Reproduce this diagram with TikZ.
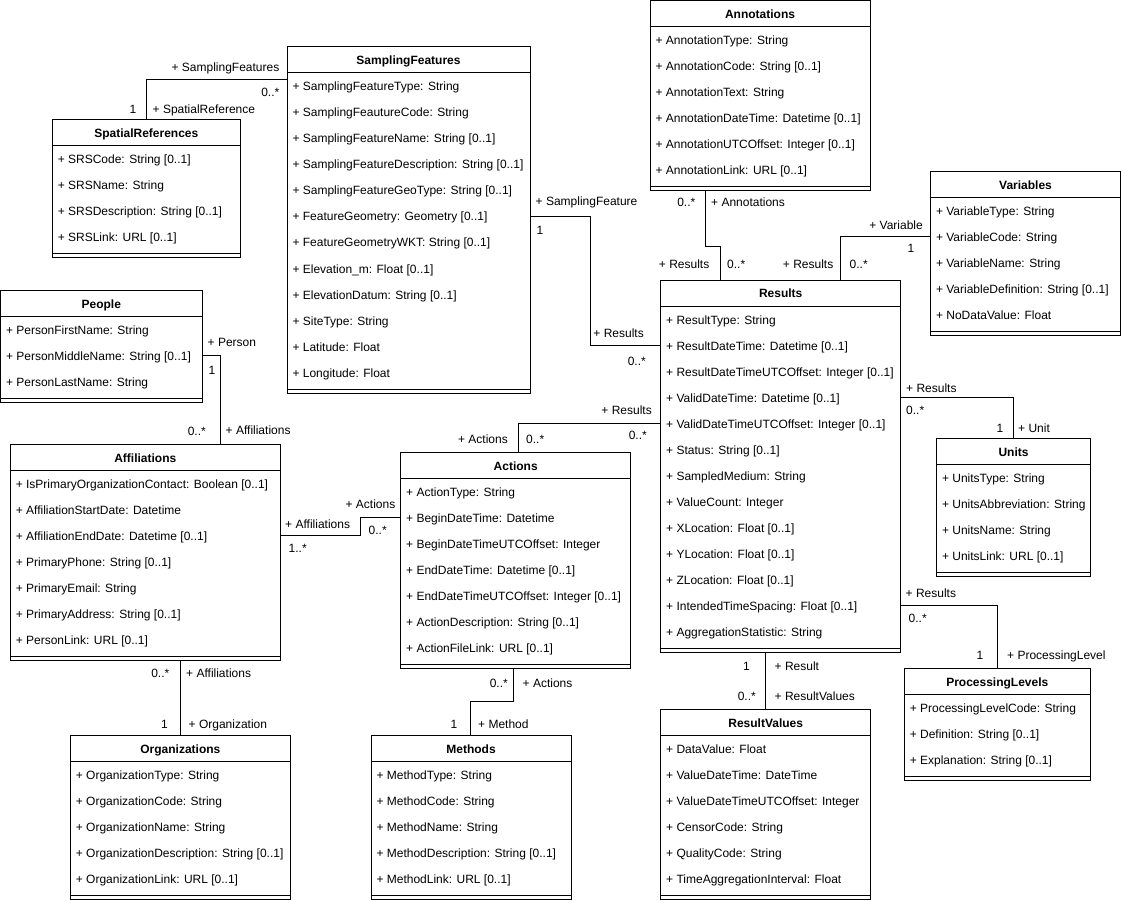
\documentclass[tikz,border=0pt]{standalone}
\usepackage{fontspec}
\setmainfont{Liberation Sans}
\usetikzlibrary{calc}
\tikzset{
  clsbox/.style={draw=black, line width=1pt, fill=white, inner sep=0pt, outer sep=0pt},
  clsline/.style={draw=black, line width=1pt},
  clstitle/.style={inner sep=0pt, font=\fontsize{12}{14}\selectfont\bfseries},
  clsattr/.style={inner sep=0pt, font=\fontsize{12}{14}\selectfont},
  conn/.style={draw=black, line width=1pt},
  lbl/.style={inner sep=0pt, font=\fontsize{12}{14}\selectfont, yshift=-0.8pt},
  lw/.style={lbl, anchor=base west},
  le/.style={lbl, anchor=base east}
}
\newcommand\umlclass[7]{%
  \pgfmathsetmacro\clsh{34+26*#5}%
  \node[clsbox, minimum width=#4pt, minimum height=\clsh pt, anchor=north west] (#1) at (#2,#3) {};
  \node[clstitle, anchor=base] (#1-t) at ($(#1.north west)+(#4/2,17.8)$) {#6};
  \draw[clsline] ($(#1.north west)+(0,26)$) -- ($(#1.north east)+(0,26)$);
  \draw[clsline] ($(#1.south west)+(0,-4)$) -- ($(#1.south east)+(0,-4)$);
  \foreach \t [count=\i] in {#7} {\node[clsattr, anchor=base west] (#1-\i) at ($(#1.north west)+(5.3,18+26*\i)$) {\t};}
}
\begin{document}
\begin{tikzpicture}[x=1pt,y=-1pt]
\useasboundingbox (0,0) rectangle (1121,901);

% classes
\umlclass{sr}{52.3}{120}{188}{4}{SpatialReferences}{{+ SRSCode: String [0..1]},{+ SRSName: String},{+ SRSDescription: String [0..1]},{+ SRSLink: URL [0..1]}}
\umlclass{sf}{287}{47}{243}{12}{SamplingFeatures}{{+ SamplingFeatureType: String},{+ SamplingFeautureCode: String},{+ SamplingFeatureName: String [0..1]},{+ SamplingFeatureDescription: String [0..1]},{+ SamplingFeatureGeoType: String [0..1]},{+ FeatureGeometry: Geometry [0..1]},{+ FeatureGeometryWKT: String [0..1]},{+ Elevation\_m: Float [0..1]},{+ ElevationDatum: String [0..1]},{+ SiteType: String},{+ Latitude: Float},{+ Longitude: Float}}
\umlclass{ann}{650}{0.5}{220}{6}{Annotations}{{+ AnnotationType: String},{+ AnnotationCode: String [0..1]},{+ AnnotationText: String},{+ AnnotationDateTime: Datetime [0..1]},{+ AnnotationUTCOffset: Integer [0..1]},{+ AnnotationLink: URL [0..1]}}
\umlclass{var}{930.5}{171.5}{190}{5}{Variables}{{+ VariableType: String},{+ VariableCode: String},{+ VariableName: String},{+ VariableDefinition: String [0..1]},{+ NoDataValue: Float}}
\umlclass{ppl}{0.5}{290.3}{201.5}{3}{People}{{+ PersonFirstName: String},{+ PersonMiddleName: String [0..1]},{+ PersonLastName: String}}
\umlclass{aff}{10.3}{444.3}{270}{7}{Affiliations}{{+ IsPrimaryOrganizationContact: Boolean [0..1]},{+ AffiliationStartDate: Datetime},{+ AffiliationEndDate: Datetime [0..1]},{+ PrimaryPhone: String [0..1]},{+ PrimaryEmail: String},{+ PrimaryAddress: String [0..1]},{+ PersonLink: URL [0..1]}}
\umlclass{act}{400.7}{452.3}{230}{7}{Actions}{{+ ActionType: String},{+ BeginDateTime: Datetime},{+ BeginDateTimeUTCOffset: Integer},{+ EndDateTime: Datetime [0..1]},{+ EndDateTimeUTCOffset: Integer [0..1]},{+ ActionDescription: String [0..1]},{+ ActionFileLink: URL [0..1]}}
\umlclass{res}{660.7}{280}{240}{13}{Results}{{+ ResultType: String},{+ ResultDateTime: Datetime [0..1]},{+ ResultDateTimeUTCOffset: Integer [0..1]},{+ ValidDateTime: Datetime [0..1]},{+ ValidDateTimeUTCOffset: Integer [0..1]},{+ Status: String [0..1]},{+ SampledMedium: String},{+ ValueCount: Integer},{+ XLocation: Float [0..1]},{+ YLocation: Float [0..1]},{+ ZLocation: Float [0..1]},{+ IntendedTimeSpacing: Float [0..1]},{+ AggregationStatistic: String}}
\umlclass{unit}{936.5}{438.3}{154}{4}{Units}{{+ UnitsType: String},{+ UnitsAbbreviation: String},{+ UnitsName: String},{+ UnitsLink: URL [0..1]}}
\umlclass{pl}{904.3}{668.3}{186}{3}{ProcessingLevels}{{+ ProcessingLevelCode: String},{+ Definition: String [0..1]},{+ Explanation: String [0..1]}}
\umlclass{rv}{660.7}{709.3}{210}{6}{ResultValues}{{+ DataValue: Float},{+ ValueDateTime: DateTime},{+ ValueDateTimeUTCOffset: Integer},{+ CensorCode: String},{+ QualityCode: String},{+ TimeAggregationInterval: Float}}
\umlclass{org}{70.4}{735.5}{220}{5}{Organizations}{{+ OrganizationType: String},{+ OrganizationCode: String},{+ OrganizationName: String},{+ OrganizationDescription: String [0..1]},{+ OrganizationLink: URL [0..1]}}
\umlclass{met}{371}{735.5}{200}{5}{Methods}{{+ MethodType: String},{+ MethodCode: String},{+ MethodName: String},{+ MethodDescription: String [0..1]},{+ MethodLink: URL [0..1]}}

% connectors
\draw[conn] ($(sr.north west)+(94.4,0)$) |- ($(sf.north west)+(0,32.3)$);
\draw[conn] ($(sf.north east)+(0,169.7)$) -- ++(60.7,0) |- ($(res.north west)+(0,65.3)$);
\draw[conn] ($(ann.south west)+(55,0)$) |- ($(res.north west)+(60,-33.3)$) -- ($(res.north west)+(60,0)$);
\draw[conn] ($(res.north west)+(179.6,0)$) |- ($(var.north west)+(0,65.2)$);
\draw[conn] ($(ppl.north east)+(0,65.4)$) -| ($(aff.north west)+(209.7,0)$);
\draw[conn] ($(aff.north east)+(0,90.7)$) -| ($(act.north west)+(-40,65)$) -- ($(act.north west)+(0,65)$);
\draw[conn] ($(act.north west)+(117.6,0)$) |- ($(res.north west)+(0,143.3)$);
\draw[conn] ($(act.south west)+(112.6,0)$) -- ++(0,32.7) -| ($(met.north west)+(99,0)$);
\coordinate (c-ao) at ($(aff.south west)+(169.7,0)$);
\draw[conn] (c-ao) -- (c-ao |- org.north);
\draw[conn] ($(res.north east)+(0,117.3)$) -| ($(unit.north west)+(76.8,0)$);
\draw[conn] ($(res.north east)+(0,325.3)$) -| ($(pl.north west)+(93,0)$);
\coordinate (c-rr) at ($(res.south west)+(105,0)$);
\draw[conn] (c-rr) -- (c-rr |- rv.north);

% labels
\node[le] (lb1) at (279.5,71) {+ SamplingFeatures};
\node[le] (lb2) at (279.5,96) {0..*};
\node[le] (lb3) at (136.5,112.5) {1};
\node[lw] (lb4) at (152.5,112.5) {+ SpatialReference};
\node[lw] (lb5) at (535.5,205) {+ SamplingFeature};
\node[lw] (lb6) at (536.5,233.5) {1};
\node[le] (lb7) at (644,337) {+ Results};
\node[le] (lb8) at (646,365) {0..*};
\node[le] (lb9) at (695.5,206) {0..*};
\node[lw] (lb10) at (711,206) {+ Annotations};
\node[le] (lb11) at (709.5,268) {+ Results};
\node[lw] (lb12) at (727,268) {0..*};
\node[le] (lb13) at (833.5,268) {+ Results};
\node[lw] (lb14) at (849.5,268) {0..*};
\node[le] (lb15) at (923,229) {+ Variable};
\node[le] (lb16) at (914.5,252) {1};
\node[lw] (lb17) at (207.5,346) {+ Person};
\node[lw] (lb18) at (208.5,373.5) {1};
\node[le] (lb19) at (206,435) {0..*};
\node[lw] (lb20) at (225.5,434) {+ Affiliations};
\node[lw] (lb21) at (285,528) {+ Affiliations};
\node[lw] (lb22) at (288.5,552) {1..*};
\node[le] (lb23) at (395.5,508) {+ Actions};
\node[lw] (lb24) at (368.5,534) {0..*};
\node[le] (lb25) at (652,414) {+ Results};
\node[le] (lb26) at (647,438.5) {0..*};
\node[le] (lb27) at (508,443) {+ Actions};
\node[lw] (lb28) at (526,443) {0..*};
\node[le] (lb29) at (508,687) {0..*};
\node[lw] (lb30) at (522.5,687) {+ Actions};
\node[le] (lb31) at (457.5,728) {1};
\node[lw] (lb32) at (478,728) {+ Method};
\node[le] (lb33) at (169.5,676.5) {0..*};
\node[lw] (lb34) at (186,676.5) {+ Affiliations};
\node[le] (lb35) at (168,728) {1};
\node[lw] (lb36) at (188.5,728) {+ Organization};
\node[lw] (lb37) at (906,392) {+ Results};
\node[lw] (lb38) at (906,413.5) {0..*};
\node[le] (lb39) at (1003.5,431.5) {1};
\node[lw] (lb40) at (1018,431.5) {+ Unit};
\node[lw] (lb41) at (905.5,597) {+ Results};
\node[lw] (lb42) at (908.5,621.5) {0..*};
\node[le] (lb43) at (983.5,658.5) {1};
\node[lw] (lb44) at (1007,658.5) {+ ProcessingLevel};
\node[le] (lb45) at (750,669.5) {1};
\node[lw] (lb46) at (774.5,669.5) {+ Result};
\node[le] (lb47) at (756,700) {0..*};
\node[lw] (lb48) at (774.5,700) {+ ResultValues};
\end{tikzpicture}
\end{document}
